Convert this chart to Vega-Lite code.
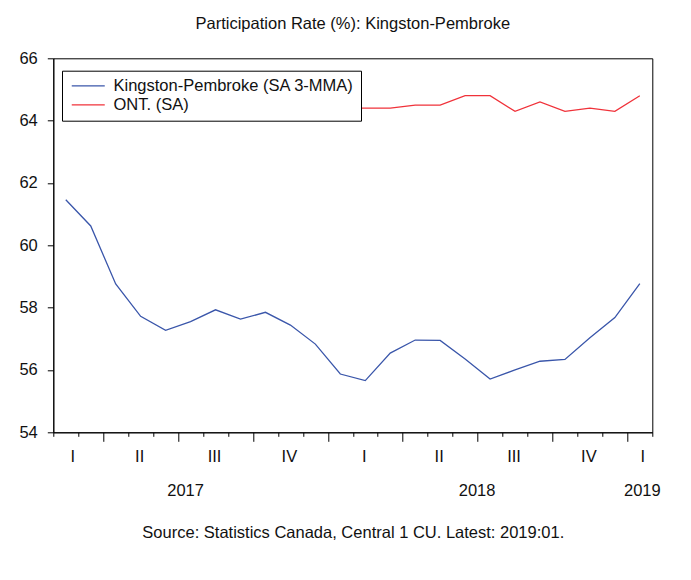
{
  "$schema": "https://vega.github.io/schema/vega-lite/v6.json",
  "width": 599,
  "height": 374,
  "autosize": {"type": "none"},
  "padding": {"left": 53.3, "top": 58.3, "right": 38.7, "bottom": 147.7},
  "background": "white",
  "title": {
    "text": "Participation Rate (%): Kingston-Pembroke",
    "anchor": "middle",
    "frame": "group",
    "baseline": "alphabetic",
    "offset": 5,
    "fontSize": 16.5,
    "fontWeight": "normal",
    "font": "Liberation Sans",
    "color": "#111"
  },
  "datasets": {
    "rates": [
      {"i": 0, "series": "Kingston-Pembroke (SA 3-MMA)", "value": 61.46},
      {"i": 1, "series": "Kingston-Pembroke (SA 3-MMA)", "value": 60.62},
      {"i": 2, "series": "Kingston-Pembroke (SA 3-MMA)", "value": 58.76},
      {"i": 3, "series": "Kingston-Pembroke (SA 3-MMA)", "value": 57.72},
      {"i": 4, "series": "Kingston-Pembroke (SA 3-MMA)", "value": 57.27},
      {"i": 5, "series": "Kingston-Pembroke (SA 3-MMA)", "value": 57.55},
      {"i": 6, "series": "Kingston-Pembroke (SA 3-MMA)", "value": 57.93},
      {"i": 7, "series": "Kingston-Pembroke (SA 3-MMA)", "value": 57.63},
      {"i": 8, "series": "Kingston-Pembroke (SA 3-MMA)", "value": 57.85},
      {"i": 9, "series": "Kingston-Pembroke (SA 3-MMA)", "value": 57.44},
      {"i": 10, "series": "Kingston-Pembroke (SA 3-MMA)", "value": 56.83},
      {"i": 11, "series": "Kingston-Pembroke (SA 3-MMA)", "value": 55.87},
      {"i": 12, "series": "Kingston-Pembroke (SA 3-MMA)", "value": 55.66},
      {"i": 13, "series": "Kingston-Pembroke (SA 3-MMA)", "value": 56.54},
      {"i": 14, "series": "Kingston-Pembroke (SA 3-MMA)", "value": 56.96},
      {"i": 15, "series": "Kingston-Pembroke (SA 3-MMA)", "value": 56.95},
      {"i": 16, "series": "Kingston-Pembroke (SA 3-MMA)", "value": 56.35},
      {"i": 17, "series": "Kingston-Pembroke (SA 3-MMA)", "value": 55.71},
      {"i": 18, "series": "Kingston-Pembroke (SA 3-MMA)", "value": 56.0},
      {"i": 19, "series": "Kingston-Pembroke (SA 3-MMA)", "value": 56.28},
      {"i": 20, "series": "Kingston-Pembroke (SA 3-MMA)", "value": 56.34},
      {"i": 21, "series": "Kingston-Pembroke (SA 3-MMA)", "value": 57.03},
      {"i": 22, "series": "Kingston-Pembroke (SA 3-MMA)", "value": 57.68},
      {"i": 23, "series": "Kingston-Pembroke (SA 3-MMA)", "value": 58.77},
      {"i": 11, "series": "ONT. (SA)", "value": 64.4},
      {"i": 12, "series": "ONT. (SA)", "value": 64.4},
      {"i": 13, "series": "ONT. (SA)", "value": 64.4},
      {"i": 14, "series": "ONT. (SA)", "value": 64.5},
      {"i": 15, "series": "ONT. (SA)", "value": 64.5},
      {"i": 16, "series": "ONT. (SA)", "value": 64.8},
      {"i": 17, "series": "ONT. (SA)", "value": 64.8},
      {"i": 18, "series": "ONT. (SA)", "value": 64.3},
      {"i": 19, "series": "ONT. (SA)", "value": 64.6},
      {"i": 20, "series": "ONT. (SA)", "value": 64.3},
      {"i": 21, "series": "ONT. (SA)", "value": 64.4},
      {"i": 22, "series": "ONT. (SA)", "value": 64.3},
      {"i": 23, "series": "ONT. (SA)", "value": 64.8}
    ]
  },
  "data": {"name": "rates"},
  "layer": [
    {
      "mark": {"type": "line", "strokeWidth": 1.3, "clip": true},
      "encoding": {
        "x": {
          "field": "i",
          "type": "quantitative",
          "scale": {"domain": [-0.5, 23.5], "nice": false, "zero": false},
          "axis": {
            "orient": "bottom",
            "values": [-0.5, 0.5, 1.5, 2.5, 3.5, 4.5, 5.5, 6.5, 7.5, 8.5, 9.5, 10.5, 11.5, 12.5, 13.5, 14.5, 15.5, 16.5, 17.5, 18.5, 19.5, 20.5, 21.5, 22.5, 23.5],
            "labels": false,
            "title": null,
            "grid": false,
            "domainColor": "#000",
            "tickColor": "#000",
            "tickSize": {"condition": {"test": "(datum.value + 0.5) % 3 == 2", "value": 9}, "value": 4}
          }
        },
        "y": {
          "field": "value",
          "type": "quantitative",
          "scale": {"domain": [54, 66], "nice": false, "zero": false},
          "axis": {
            "values": [54, 56, 58, 60, 62, 64, 66],
            "title": null,
            "grid": false,
            "tickSize": 6,
            "labelPadding": 10,
            "labelFontSize": 16.5,
            "labelFont": "Liberation Sans",
            "labelColor": "#111",
            "domainColor": "#000",
            "tickColor": "#000"
          }
        },
        "color": {
          "field": "series",
          "type": "nominal",
          "scale": {"domain": ["Kingston-Pembroke (SA 3-MMA)", "ONT. (SA)"], "range": ["#3A56AA", "#F0323A"]},
          "legend": {
            "orient": "none",
            "legendX": 8.7,
            "legendY": 12.4,
            "title": null,
            "symbolType": "M-1,0H5",
            "symbolSize": 121,
            "symbolStrokeWidth": 1.3,
            "labelFontSize": 16.5,
            "labelFont": "Liberation Sans",
            "labelColor": "#111",
            "labelOffset": 28,
            "labelLimit": 400,
            "padding": 7,
            "rowPadding": 2,
            "fillColor": "white",
            "strokeColor": "#000"
          }
        }
      }
    },
    {
      "mark": {"type": "rule", "opacity": 0},
      "encoding": {
        "x": {
          "field": "i",
          "type": "quantitative",
          "axis": {
            "orient": "bottom",
            "values": [0.26, 2.94, 5.94, 8.94, 11.94, 14.94, 17.94, 20.94, 23.1],
            "labelExpr": "['I','II','III','IV'][floor((datum.value + 1.5) / 3) % 4]",
            "ticks": false,
            "domain": false,
            "grid": false,
            "title": null,
            "labelPadding": 16,
            "labelOverlap": false,
            "labelFlush": false,
            "labelBound": false,
            "labelFontSize": 16.5,
            "labelFont": "Liberation Sans",
            "labelColor": "#111"
          }
        }
      }
    },
    {
      "mark": {"type": "rule", "opacity": 0},
      "encoding": {
        "x": {
          "field": "i",
          "type": "quantitative",
          "axis": {
            "orient": "bottom",
            "values": [4.78, 16.46, 23.08],
            "labelExpr": "datum.value < 10 ? '2017' : (datum.value < 22 ? '2018' : '2019')",
            "ticks": false,
            "domain": false,
            "grid": false,
            "labelPadding": 50,
            "labelOverlap": false,
            "labelFlush": false,
            "labelBound": false,
            "labelFontSize": 16.5,
            "labelFont": "Liberation Sans",
            "labelColor": "#111",
            "title": "Source: Statistics Canada, Central 1 CU. Latest: 2019:01.",
            "titleFontSize": 16.5,
            "titleFont": "Liberation Sans",
            "titleFontWeight": "normal",
            "titleColor": "#111",
            "titlePadding": 26
          }
        }
      }
    }
  ],
  "resolve": {"axis": {"x": "independent"}},
  "config": {
    "view": {"stroke": "#000", "strokeWidth": 1},
    "font": "Liberation Sans"
  }
}
